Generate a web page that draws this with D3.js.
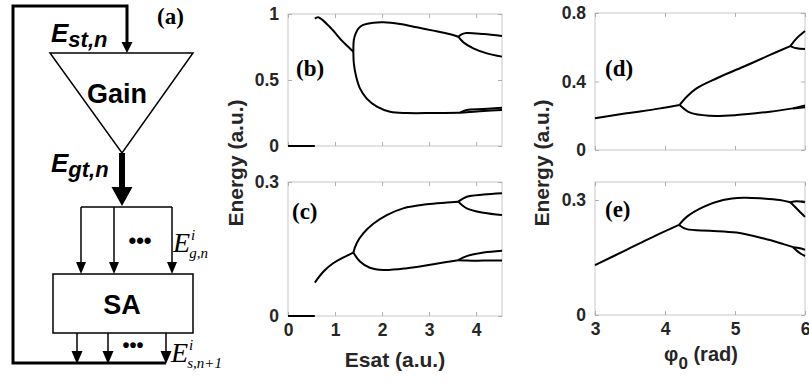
<!DOCTYPE html>
<html>
<head>
<meta charset="utf-8">
<script src="https://cdn.jsdelivr.net/npm/d3@7"></script>
<style>
body { margin: 0; background: #fff; }
</style>
</head>
<body>
<div id="chart"></div>
<script>
// ---- values ----
// panels (b),(c): energy vs Esat
var esatTicks = [0, 1, 2, 3, 4];
var bYTicks = [0, 0.5, 1];
var cYTicks = [0, 0.3];

var bZero = [[0, 0], [0.57, 0]];
var bTrunk = [[0.57, 0.965], [0.64, 0.975], [0.75, 0.95], [0.88, 0.905], [1.02, 0.85], [1.14, 0.80], [1.28, 0.752], [1.39, 0.714]];
var bUpper = [[1.39, 0.714], [1.40, 0.803], [1.44, 0.854], [1.50, 0.891], [1.60, 0.917], [1.82, 0.934], [2.03, 0.937], [2.38, 0.924], [2.74, 0.899], [3.09, 0.874], [3.45, 0.846], [3.62, 0.828]];
var bUpperA = [[3.62, 0.828], [3.70, 0.848], [3.80, 0.856], [4.16, 0.848], [4.55, 0.833]];
var bUpperB = [[3.62, 0.828], [3.73, 0.785], [3.94, 0.74], [4.23, 0.702], [4.55, 0.677]];
var bLower = [[1.39, 0.714], [1.40, 0.626], [1.45, 0.525], [1.53, 0.437], [1.67, 0.361], [1.89, 0.298], [2.17, 0.26], [2.53, 0.25], [3.09, 0.25], [3.66, 0.252]];
var bLowerA = [[3.66, 0.252], [3.80, 0.273], [4.16, 0.28], [4.55, 0.29]];
var bLowerB = [[3.66, 0.252], [3.80, 0.255], [4.16, 0.265], [4.55, 0.273]];

var cZero = [[0, 0], [0.57, 0]];
var cTrunk = [[0.57, 0.0746], [0.75, 0.099], [0.96, 0.118], [1.18, 0.131], [1.39, 0.142]];
var cUpper = [[1.39, 0.142], [1.46, 0.163], [1.60, 0.185], [1.82, 0.207], [2.10, 0.226], [2.45, 0.241], [2.95, 0.25], [3.38, 0.254], [3.62, 0.256]];
var cUpperA = [[3.62, 0.256], [3.80, 0.267], [4.16, 0.272], [4.55, 0.275]];
var cUpperB = [[3.62, 0.256], [3.80, 0.241], [4.16, 0.231], [4.55, 0.226]];
var cLower = [[1.39, 0.142], [1.53, 0.122], [1.74, 0.108], [2.03, 0.103], [2.53, 0.107], [3.09, 0.116], [3.62, 0.125]];
var cLowerA = [[3.62, 0.125], [3.80, 0.134], [4.16, 0.142], [4.55, 0.146]];
var cLowerB = [[3.62, 0.125], [3.80, 0.124], [4.16, 0.124], [4.55, 0.124]];

// panels (d),(e): energy vs phi0
var phiTicks = [3, 4, 5, 6];
var dYTicks = [0, 0.4, 0.8];
var eYTicks = [0, 0.3];

var dTrunk = [[3, 0.185], [3.45, 0.214], [3.93, 0.243], [4.21, 0.263]];
var dUpper = [[4.21, 0.263], [4.31, 0.311], [4.45, 0.36], [4.74, 0.419], [5.12, 0.486], [5.50, 0.555], [5.79, 0.607]];
var dUpperA = [[5.79, 0.607], [5.88, 0.652], [6, 0.695]];
var dUpperB = [[5.79, 0.607], [5.88, 0.594], [6, 0.59]];
var dLower = [[4.21, 0.263], [4.36, 0.218], [4.64, 0.2], [5.02, 0.204], [5.50, 0.224], [5.83, 0.243]];
var dLowerA = [[5.83, 0.243], [6, 0.26]];
var dLowerB = [[5.83, 0.243], [6, 0.25]];

var eTrunk = [[3, 0.130], [3.45, 0.170], [3.83, 0.204], [4.20, 0.235]];
var eUpper = [[4.20, 0.235], [4.31, 0.256], [4.55, 0.282], [4.83, 0.30], [5.12, 0.306], [5.40, 0.304], [5.64, 0.30], [5.79, 0.294]];
var eUpperA = [[5.79, 0.294], [5.88, 0.297], [6, 0.294]];
var eUpperB = [[5.79, 0.294], [5.88, 0.278], [6, 0.256]];
var eLower = [[4.20, 0.235], [4.31, 0.224], [4.64, 0.22], [5.02, 0.215], [5.40, 0.2], [5.69, 0.185], [5.83, 0.177]];
var eLowerA = [[5.83, 0.177], [5.93, 0.174], [6, 0.17]];
var eLowerB = [[5.83, 0.177], [5.93, 0.161], [6, 0.154]];

var W = 809, H = 383;
var sans = "'Liberation Sans', Arial, sans-serif";
var serif = "'Liberation Serif', 'Times New Roman', serif";

var svg = d3.select("#chart").append("svg")
    .attr("width", W)
    .attr("height", H)
    .style("display", "block");

// ---------- panel (a): block diagram ----------
var dia = svg.append("g");

function arrowHead(g, x, tipY, w, h) {
    g.append("path")
        .attr("d", "M" + (x - w / 2) + "," + (tipY - h) + "L" + (x + w / 2) + "," + (tipY - h) + "L" + x + "," + tipY + "Z")
        .attr("fill", "#000");
}

// feedback loop
dia.append("path")
    .attr("d", "M166,363 L13,363 L13,6 L127,6 L127,44")
    .attr("fill", "none").attr("stroke", "#000").attr("stroke-width", 3);
arrowHead(dia, 127, 53, 11, 11);

// gain triangle
dia.append("path")
    .attr("d", "M50,53 L193,53 L122,153 Z")
    .attr("fill", "#fff").attr("stroke", "#000").attr("stroke-width", 1.5);
dia.append("text").attr("x", 117).attr("y", 103)
    .attr("text-anchor", "middle")
    .style("font-family", sans).style("font-weight", "bold").style("font-size", "27px")
    .text("Gain");

// thick output arrow
dia.append("line").attr("x1", 122).attr("x2", 122).attr("y1", 153).attr("y2", 190)
    .attr("stroke", "#000").attr("stroke-width", 6);
arrowHead(dia, 122, 206, 21, 19);

// splitter
dia.append("line").attr("x1", 81).attr("x2", 172).attr("y1", 207).attr("y2", 207)
    .attr("stroke", "#000").attr("stroke-width", 1.5);
[81, 114, 172].forEach(function(x) {
    dia.append("line").attr("x1", x).attr("x2", x).attr("y1", 207).attr("y2", 264)
        .attr("stroke", "#000").attr("stroke-width", 1.5);
    arrowHead(dia, x, 274, 10, 12);
});
dia.append("text").attr("x", 140).attr("y", 248)
    .attr("text-anchor", "middle")
    .style("font-family", sans).style("font-weight", "bold").style("font-size", "22px")
    .text("\u2022\u2022\u2022");

// SA box
dia.append("rect").attr("x", 53).attr("y", 274).attr("width", 140).attr("height", 59)
    .attr("fill", "#fff").attr("stroke", "#000").attr("stroke-width", 1.5);
dia.append("text").attr("x", 122).attr("y", 314)
    .attr("text-anchor", "middle")
    .style("font-family", sans).style("font-weight", "bold").style("font-size", "27px")
    .text("SA");

[77, 108, 166].forEach(function(x) {
    dia.append("line").attr("x1", x).attr("x2", x).attr("y1", 333).attr("y2", 354)
        .attr("stroke", "#000").attr("stroke-width", 1.5);
    arrowHead(dia, x, 364, 11, 13);
});
dia.append("text").attr("x", 133).attr("y", 352)
    .attr("text-anchor", "middle")
    .style("font-family", sans).style("font-weight", "bold").style("font-size", "20px")
    .text("\u2022\u2022\u2022");

// E labels (bold italic sans)
function sansLabel(x, y, sub) {
    var t = dia.append("text").attr("x", x).attr("y", y)
        .style("font-family", sans).style("font-weight", "bold").style("font-style", "italic");
    t.append("tspan").style("font-size", "26px").text("E");
    t.append("tspan").attr("dy", 5).style("font-size", "22px").text(sub);
}
sansLabel(51, 42, "st,n");
sansLabel(51, 172, "gt,n");

// E labels (serif italic, latex style)
function texLabel(x, y, sub) {
    var t = dia.append("text").attr("x", x).attr("y", y)
        .style("font-family", serif).style("font-style", "italic");
    t.append("tspan").style("font-size", "28px").text("E");
    t.append("tspan").attr("dx", 1).attr("dy", -12).style("font-size", "15px").text("i");
    t.append("tspan").attr("dx", -6).attr("dy", 18).style("font-size", "15px").text(sub);
}
texLabel(173, 252, "g,n");
texLabel(171, 362, "s,n+1");

dia.append("text").attr("x", 157).attr("y", 24)
    .style("font-family", serif).style("font-weight", "bold").style("font-size", "23px")
    .text("(a)");

// ---------- panels (b)-(e) ----------
var panels = [
    {left: 288, right: 502, top: 14, bottom: 146, xDomain: [0, 4.55], yDomain: [0, 1],
     xTicks: esatTicks, yTicks: bYTicks, showX: false, tag: "(b)", tagX: 296, tagY: 76,
     branches: [bZero, bTrunk, bUpper, bUpperA, bUpperB, bLower, bLowerA, bLowerB]},
    {left: 288, right: 502, top: 182, bottom: 316, xDomain: [0, 4.55], yDomain: [0, 0.3],
     xTicks: esatTicks, yTicks: cYTicks, showX: true, tag: "(c)", tagX: 292, tagY: 219,
     branches: [cZero, cTrunk, cUpper, cUpperA, cUpperB, cLower, cLowerA, cLowerB]},
    {left: 595, right: 805, top: 13, bottom: 150, xDomain: [3, 6], yDomain: [0, 0.8],
     xTicks: phiTicks, yTicks: dYTicks, showX: false, tag: "(d)", tagX: 605, tagY: 76,
     branches: [dTrunk, dUpper, dUpperA, dUpperB, dLower, dLowerA, dLowerB]},
    {left: 595, right: 805, top: 182, bottom: 315, xDomain: [3, 6], yDomain: [0, 0.347],
     xTicks: phiTicks, yTicks: eYTicks, showX: true, tag: "(e)", tagX: 605, tagY: 217,
     branches: [eTrunk, eUpper, eUpperA, eUpperB, eLower, eLowerA, eLowerB]}
];

panels.forEach(function(p) {
    var x = d3.scaleLinear().domain(p.xDomain).range([p.left, p.right]);
    var y = d3.scaleLinear().domain(p.yDomain).range([p.bottom, p.top]);
    var g = svg.append("g");

    g.append("rect")
        .attr("x", p.left).attr("y", p.top)
        .attr("width", p.right - p.left).attr("height", p.bottom - p.top)
        .attr("fill", "none").attr("stroke", "#c8c8c8").attr("stroke-width", 1);

    var xb = g.append("g").attr("transform", "translate(0," + p.bottom + ")")
        .call(d3.axisBottom(x).tickValues(p.xTicks).tickSize(-4).tickPadding(8)
            .tickFormat(p.showX ? function(d) { return d; } : ""));
    var xt = g.append("g").attr("transform", "translate(0," + p.top + ")")
        .call(d3.axisTop(x).tickValues(p.xTicks).tickSize(-4).tickFormat(""));
    var yl = g.append("g").attr("transform", "translate(" + p.left + ",0)")
        .call(d3.axisLeft(y).tickValues(p.yTicks).tickSize(-4).tickPadding(9)
            .tickFormat(function(d) { return d; }));
    var yr = g.append("g").attr("transform", "translate(" + p.right + ",0)")
        .call(d3.axisRight(y).tickValues(p.yTicks).tickSize(-4).tickFormat(""));

    [xb, xt, yl, yr].forEach(function(a) {
        a.select(".domain").remove();
        a.selectAll(".tick line").attr("stroke", "#b0b0b0");
        a.selectAll(".tick text")
            .attr("fill", "#262626")
            .style("font-family", sans).style("font-weight", "bold").style("font-size", "17.5px");
    });

    var line = d3.line()
        .x(function(d) { return x(d[0]); })
        .y(function(d) { return y(d[1]); })
        .curve(d3.curveCatmullRom.alpha(0.5));

    g.selectAll("path.branch")
        .data(p.branches)
        .enter().append("path")
        .attr("class", "branch")
        .attr("d", line)
        .attr("fill", "none")
        .attr("stroke", "#000")
        .attr("stroke-width", 2);

    g.append("text").attr("x", p.tagX).attr("y", p.tagY)
        .style("font-family", serif).style("font-weight", "bold").style("font-size", "23px")
        .text(p.tag);
});

// axis titles
function yTitle(cx, cy) {
    svg.append("text")
        .attr("transform", "translate(" + cx + "," + cy + ") rotate(-90)")
        .attr("text-anchor", "middle")
        .attr("fill", "#262626")
        .style("font-family", sans).style("font-weight", "bold").style("font-size", "21px")
        .text("Energy (a.u.)");
}
yTitle(243, 163);
yTitle(549, 163);

svg.append("text").attr("x", 395).attr("y", 367)
    .attr("text-anchor", "middle").attr("fill", "#262626")
    .style("font-family", sans).style("font-weight", "bold").style("font-size", "21px")
    .text("Esat (a.u.)");

var phiLabel = svg.append("text").attr("x", 701).attr("y", 361)
    .attr("text-anchor", "middle").attr("fill", "#262626")
    .style("font-family", sans).style("font-weight", "bold").style("font-size", "20px");
phiLabel.append("tspan").text("\u03c6");
phiLabel.append("tspan").attr("dy", 8).style("font-size", "17px").text("0");
phiLabel.append("tspan").attr("dy", -8).text(" (rad)");
</script>
</body>
</html>
